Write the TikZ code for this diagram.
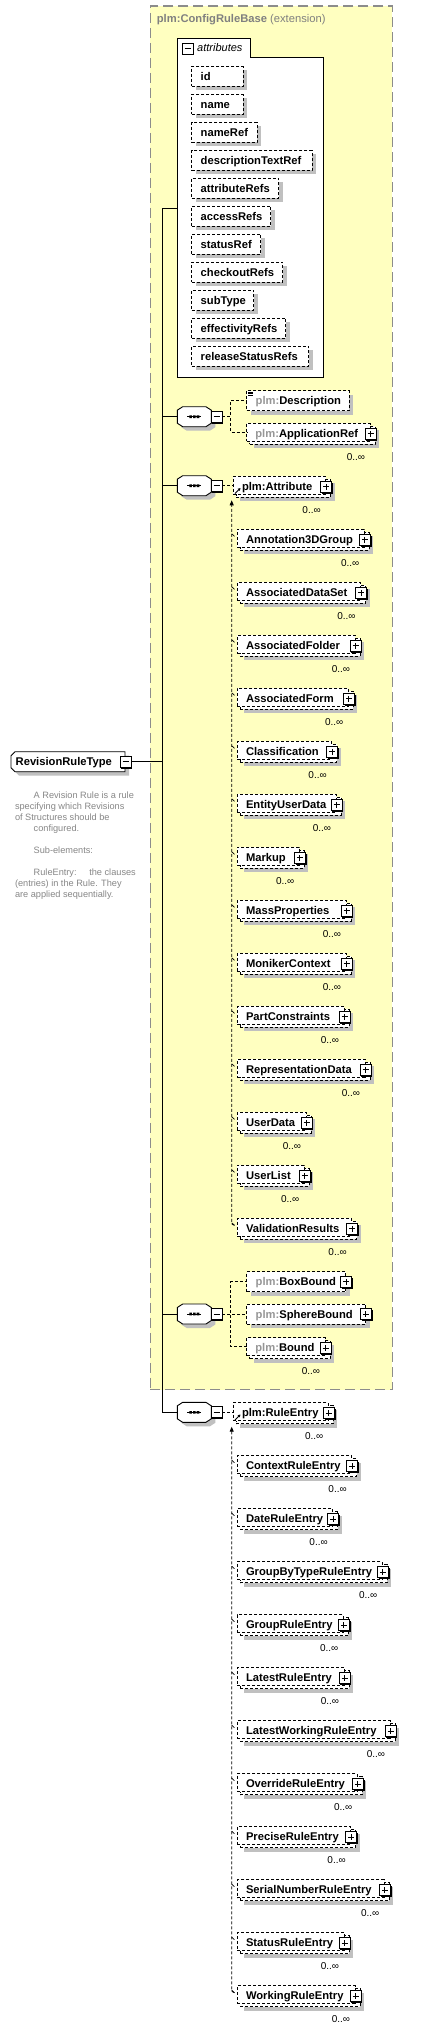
\documentclass[tikz,border=0pt]{standalone}
\usepackage{fontspec}
\setmainfont{Liberation Sans}
\usetikzlibrary{shadows,arrows.meta,calc}
\definecolor{extfill}{RGB}{255,255,192}
\definecolor{extline}{RGB}{140,140,140}
\definecolor{shadowgray}{RGB}{192,192,192}
\definecolor{pfxgray}{RGB}{150,150,150}
\definecolor{docgray}{RGB}{135,135,135}
\definecolor{titlegray}{RGB}{128,128,128}
\newcommand\xelfont{\fontsize{11.2}{13}\selectfont\bfseries}
\newcommand\xdocfont{\fontsize{9.2}{11}\selectfont}
\newcommand\xmultfont{\fontsize{10}{12}\selectfont}
\tikzset{
  elbox/.style={rectangle, draw=black, line width=0.8pt, dash pattern=on 3pt off 2pt, fill=white, inner sep=0pt, outer sep=0pt},
  elshadow/.style={general shadow={fill=shadowgray, shadow xshift=4pt, shadow yshift=-4pt}},
  eltext/.style={font=\xelfont, inner sep=0pt, outer sep=0pt, text=black},
  doctext/.style={font=\xdocfont, inner sep=0pt, outer sep=0pt, text=docgray},
  multtext/.style={font=\xmultfont, inner sep=0pt, outer sep=0pt, text=black},
  pmbase/.style={rectangle, draw=black, fill=white, line width=0.9pt, minimum size=11pt, inner sep=0pt, outer sep=0pt, general shadow={fill=black, shadow xshift=1.3pt, shadow yshift=-1.3pt}},
  pmplus/.style={pmbase, path picture={
     \draw[line width=0.9pt] ([xshift=2.5pt]path picture bounding box.west) -- ([xshift=-2.5pt]path picture bounding box.east);
     \draw[line width=0.9pt] ([yshift=-2.5pt]path picture bounding box.north) -- ([yshift=2.5pt]path picture bounding box.south);}},
  pmminus/.style={pmbase, path picture={
     \draw[line width=0.9pt] ([xshift=2.5pt]path picture bounding box.west) -- ([xshift=-2.5pt]path picture bounding box.east);}},
  conn/.style={draw=black, line width=0.9pt},
  dconn/.style={draw=black, line width=0.9pt, dash pattern=on 3pt off 2pt},
  ghost/.style={rectangle, draw=none, inner sep=0pt, outer sep=0pt},
}
% single element box: name, x0, top, right, text
\newcommand\xsingle[5]{%
  \node[elbox, elshadow, minimum width={#4-(#2)}, minimum height=20pt, anchor=north west] (#1) at (#2,#3) {};
  \node[eltext, anchor=base west] (#1T) at (#2+9,#3+14) {#5};
}
% multi element box: name, x0, top, plus-left, text
\newcommand\xmulti[5]{%
  \node[elbox, elshadow, minimum width={#4+7-(#2)}, minimum height=18pt, anchor=north west] (#1B) at (#2+3,#3+3) {};
  \node[elbox, minimum width={#4+5-(#2)}, minimum height=18pt, anchor=north west] (#1) at (#2,#3) {};
  \node[eltext, anchor=base west] (#1T) at (#2+8.7,#3+14) {#5};
  \node[pmplus] (#1P) at (#4+5.5,#3+10.5) {};
  \node[multtext, anchor=base east] (#1N) at (#4,#3+37) {0..∞};
}
% sequence symbol: name, cy
\newcommand\xseq[2]{%
  \node[ghost, minimum width=34pt, minimum height=20pt] (#1) at (194.3,#2) {};
  \fill[shadowgray, shift={(#1.center)}, xshift=4pt, yshift=-4pt] (-17,-6.5) -- (-11.6,-10) -- (11.6,-10) -- (17,-6.5) -- (17,6.5) -- (11.6,10) -- (-11.6,10) -- (-17,6.5) -- cycle;
  \filldraw[fill=white, draw=black, line width=0.9pt, shift={(#1.center)}] (-17,-6.5) -- (-11.6,-10) -- (11.6,-10) -- (17,-6.5) -- (17,6.5) -- (11.6,10) -- (-11.6,10) -- (-17,6.5) -- cycle;
  \draw[line width=0.9pt, shift={(#1.center)}] (-7.3,0) -- (7,0);
  \fill[shift={(#1.center)}] (-5,-1.3) rectangle (-2.4,1.3) (-1.3,-1.3) rectangle (1.3,1.3) (2.4,-1.3) rectangle (5,1.3);
  \node[pmminus] (#1M) at (216.6,#2) {};
}
\begin{document}
\begin{tikzpicture}[x=1pt,y=-1pt]
\useasboundingbox (0,0) rectangle (422,2031);
\fill[white] (0,0) rectangle (422,2031);

% extension box
\node[rectangle, fill=extfill, draw=extline, line width=1.3pt, dash pattern=on 10pt off 5pt, minimum width=242.2pt, minimum height=1383.7pt, anchor=north west, inner sep=0pt] (ext) at (149.5,5.3) {};
\node[anchor=base west, inner sep=0pt, text=titlegray, font=\fontsize{11.2}{13}\selectfont] (extT) at (156.7,23) {\textbf{plm:ConfigRuleBase} (extension)};

% attributes group
\node[ghost, minimum width=146pt, minimum height=320pt, anchor=north west] (attrbox) at (177.3,57.3) {};
\filldraw[fill=white, draw=black, line width=0.9pt] (attrbox.south west) -- (177.3,38.3) -- (250,38.3) -- (250,57.3) -- (attrbox.north east) -- (attrbox.south east) -- cycle;
\node[pmminus] (attrM) at (187.5,48.5) {};
\node[anchor=base west, inner sep=0pt, font=\fontsize{11}{13}\selectfont\itshape] (attrT) at (197,52) {attributes};
\foreach \t/\r [count=\i from 0] in {id/243, name/243, nameRef/257, descriptionTextRef/312, attributeRefs/278.7, accessRefs/270.7, statusRef/260.7, checkoutRefs/282.7, subType/253.7, effectivityRefs/285.7, releaseStatusRefs/308.7} {
  \pgfmathsetmacro\tp{66.3+28*\i}
  \xsingle{att\i}{191.7}{\tp}{\r}{\t}
}

% root element
\node[ghost, minimum width=114pt, minimum height=20pt, anchor=north west] (rev) at (11,751.7) {};
\fill[shadowgray] (19,755.7) -- (129,755.7) -- (129,775.7) -- (19,775.7) -- (15,771.7) -- (15,759.7) -- cycle;
\filldraw[fill=white, draw=black, line width=0.9pt] (15,751.7) -- (125,751.7) -- (125,771.7) -- (15,771.7) -- (11,767.7) -- (11,755.7) -- cycle;
\node[eltext, anchor=base west] (revT) at (15.7,765.7) {RevisionRuleType};
\node[pmminus] (revM) at (125.5,761.7) {};

% documentation
\node[doctext, anchor=base west] (doc1) at (33.7,798) {A Revision Rule is a rule};
\node[doctext, anchor=base west] (doc2) at (15,809) {specifying which Revisions};
\node[doctext, anchor=base west] (doc3) at (15,820) {of Structures should be};
\node[doctext, anchor=base west] (doc4) at (33.7,831) {configured.};
\node[doctext, anchor=base west] (doc5) at (33.7,853) {Sub-elements:};
\node[doctext, anchor=base west] (doc6) at (33.7,875) {RuleEntry:};
\node[doctext, anchor=base west] (doc6b) at (89.3,875) {the clauses};
\node[doctext, anchor=base west] (doc7) at (15,886) {(entries) in the Rule. They};
\node[doctext, anchor=base west] (doc8) at (15,897) {are applied sequentially.};

% sequences
\xseq{seqA}{416.7}
\xseq{seqB}{485.7}
\xseq{seqC}{1314}
\xseq{seqD}{1412.3}

% trunk
\coordinate (trTop) at (162.3,208.3);
\draw[conn] (attrbox.west |- trTop) -- (trTop) -- (trTop |- seqD.west) -- (seqD.west);
\draw[conn] (trTop |- seqA.west) -- (seqA.west);
\draw[conn] (trTop |- seqB.west) -- (seqB.west);
\draw[conn] (trTop |- seqC.west) -- (seqC.west);
\draw[conn] (revM.east) -- (trTop |- revM.east);

% sequence A children
\xsingle{desc}{246.7}{390.7}{349}{\textcolor{pfxgray}{plm:}Description}
\draw[line width=0.7pt] (248,391.9) -- (252.5,391.9) (248,393.6) -- (252.5,393.6) (248,395.3) -- (252.5,395.3);
\xmulti{appref}{246.7}{423.3}{365}{\textcolor{pfxgray}{plm:}ApplicationRef}
\draw[dconn] (seqAM.east) -- ++(8.7,0) |- (desc.west);
\draw[dconn] (seqAM.east) -- ++(8.7,0) |- (appref.west);

% sequence B: plm:Attribute and substitution group
\xmulti{attr}{233.3}{476.3}{320.7}{plm:Attribute}
\draw[line width=0.9pt, -{Triangle[length=2.5pt,width=2.8pt]}] (235,493.6) -- (240.5,488.1);
\draw[dconn] (seqBM.east) -- (seqBM.east -| attr.west);
\foreach \nm/\px [count=\k] in {Annotation3DGroup/359.3, AssociatedDataSet/355.5, AssociatedFolder/350, AssociatedForm/343.3, Classification/326.7, EntityUserData/331, Markup/294.3, MassProperties/341, MonikerContext/341, PartConstraints/339, RepresentationData/360, UserData/301, UserList/299.3, ValidationResults/346.7} {
  \pgfmathsetmacro\tp{476.3+53*\k}
  \xmulti{sA\k}{237.3}{\tp}{\px}{\nm}
  \draw[line width=0.7pt] (231.7,\tp+4.5) -- ([xshift=-2.8pt,yshift=-7pt]sA\k.north west);
}
\draw[dconn, -{Triangle[length=5pt,width=4pt]}] ([xshift=-2.8pt,yshift=-7pt]sA14.north west) -- (231.7,1223.8) -- (231.7,500.3);

% sequence C children
\xsingle{boxb}{246.7}{1271.7}{345.7}{\textcolor{pfxgray}{plm:}BoxBound}
\node[pmplus] (boxbP) at (346.2,1281.7) {};
\xsingle{sphb}{246.7}{1304.3}{365.7}{\textcolor{pfxgray}{plm:}SphereBound}
\node[pmplus] (sphbP) at (365.8,1314.3) {};
\xmulti{bnd}{246.7}{1337.7}{320}{\textcolor{pfxgray}{plm:}Bound}
\draw[dconn] (seqCM.east) -- ++(8.7,0) |- (boxb.west);
\draw[dconn] (seqCM.east) -- (seqCM.east -| sphb.west);
\draw[dconn] (seqCM.east) -- ++(8.7,0) |- (bnd.west);

% sequence D: plm:RuleEntry and substitution group
\xmulti{rule}{233.3}{1402.7}{323.3}{plm:RuleEntry}
\draw[line width=0.9pt, -{Triangle[length=2.5pt,width=2.8pt]}] (235,1420) -- (240.5,1414.5);
\draw[dconn] (seqDM.east) -- (seqDM.east -| rule.west);
\foreach \nm/\px [count=\k] in {ContextRuleEntry/346.7, DateRuleEntry/327.7, GroupByTypeRuleEntry/377.3, GroupRuleEntry/338.3, LatestRuleEntry/339, LatestWorkingRuleEntry/385, OverrideRuleEntry/352.3, PreciseRuleEntry/345.7, SerialNumberRuleEntry/379.3, StatusRuleEntry/339, WorkingRuleEntry/350} {
  \pgfmathsetmacro\tp{1402.7+53*\k}
  \xmulti{sB\k}{237.3}{\tp}{\px}{\nm}
  \draw[line width=0.7pt] (231.7,\tp+4.5) -- ([xshift=-2.8pt,yshift=-7pt]sB\k.north west);
}
\draw[dconn, -{Triangle[length=5pt,width=4pt]}] ([xshift=-2.8pt,yshift=-7pt]sB11.north west) -- (231.7,1991.2) -- (231.7,1426.7);
\end{tikzpicture}
\end{document}
